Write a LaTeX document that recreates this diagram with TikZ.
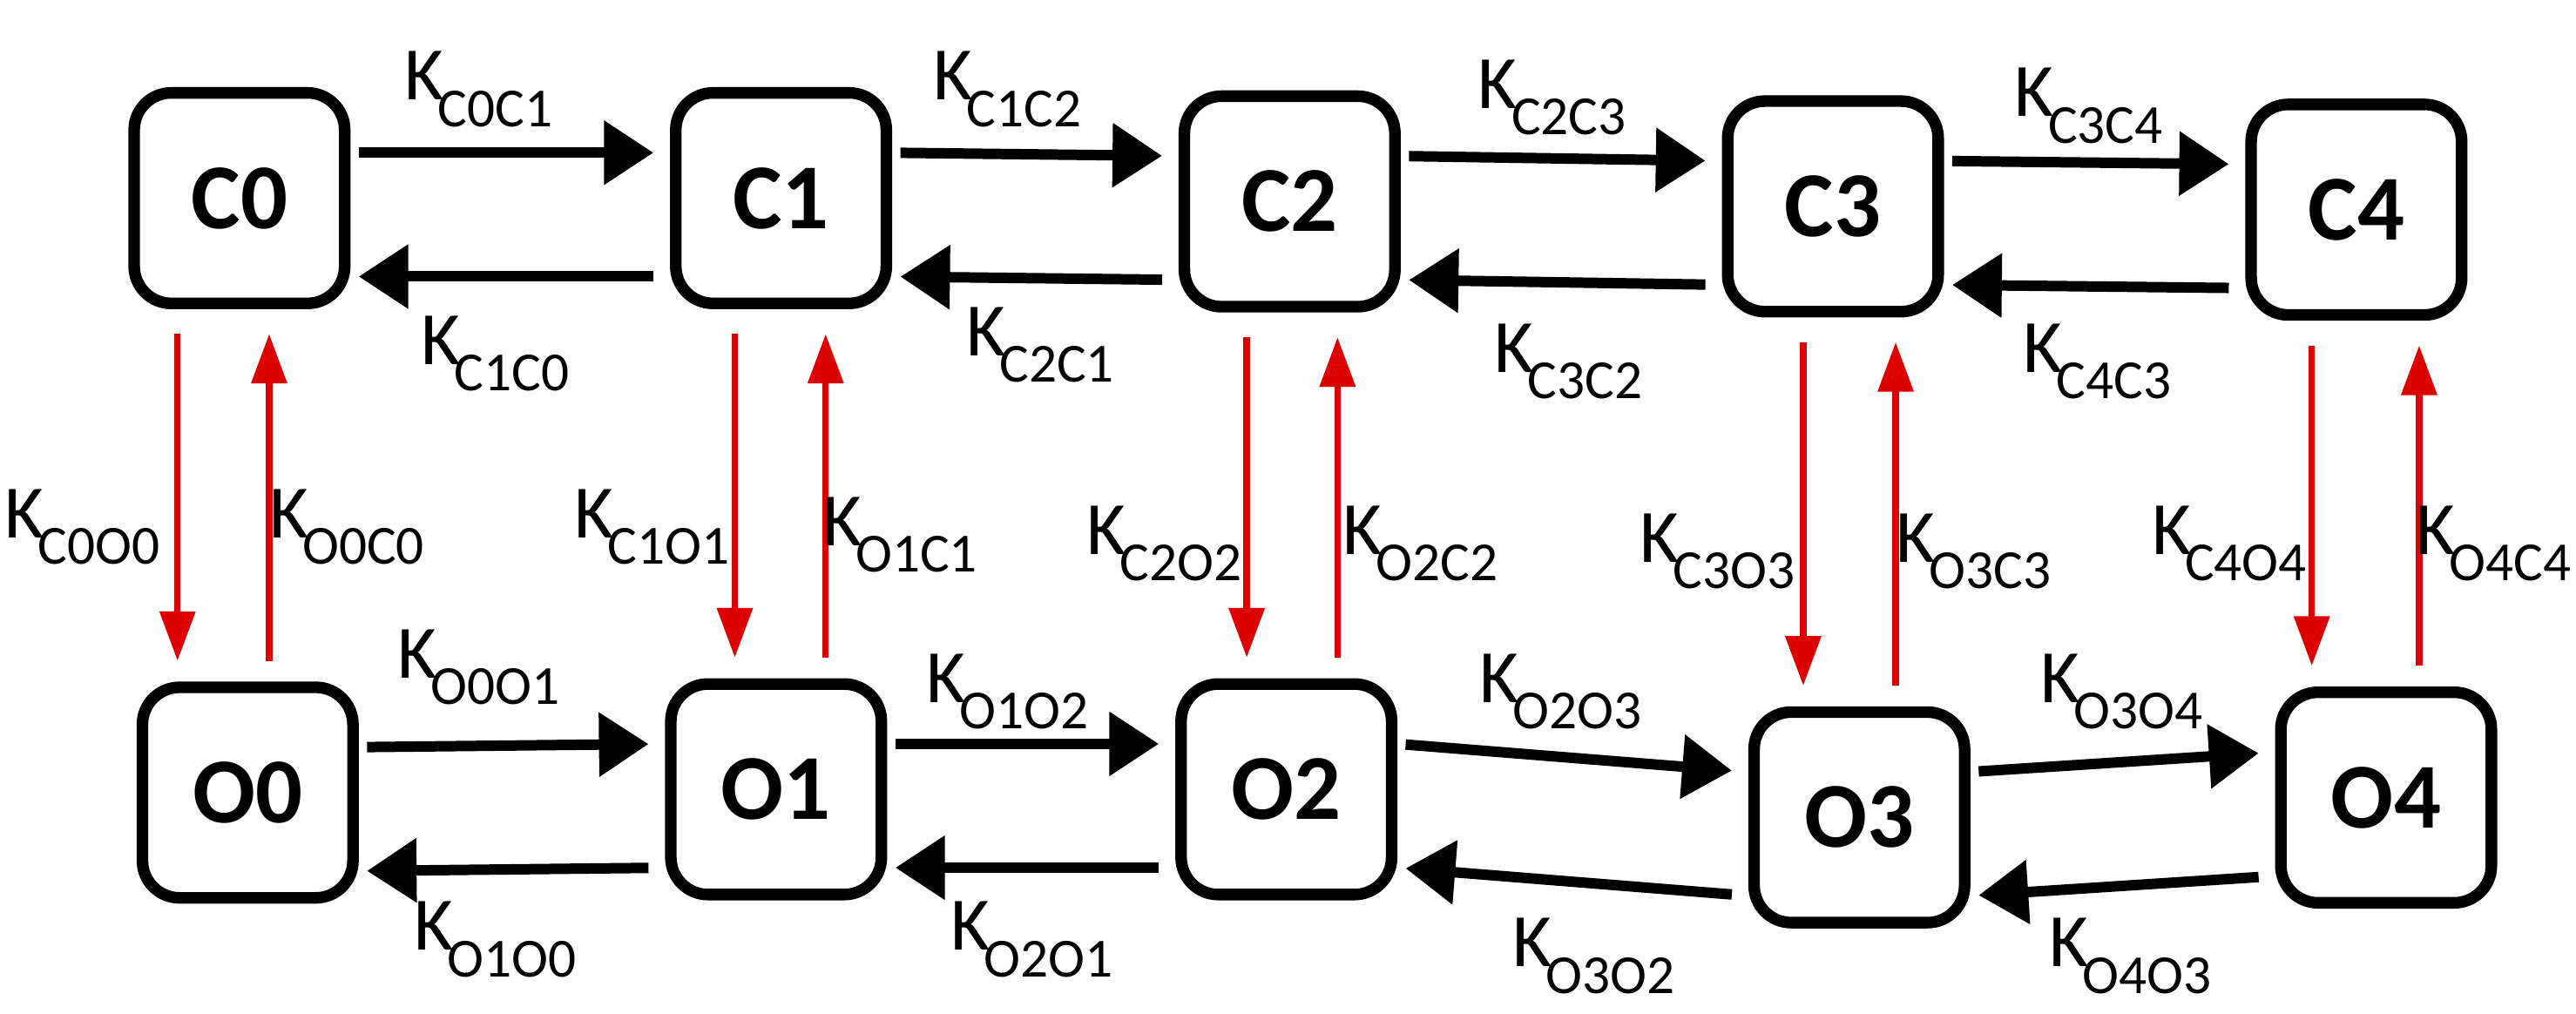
\documentclass[tikz,border=0pt]{standalone}
\usepackage{fontspec}
\setmainfont{Carlito}
\usetikzlibrary{arrows.meta,calc}
\definecolor{rateRed}{RGB}{220,0,0}
\newcommand{\rate}[1]{K\kern-0.08em\raisebox{-0.35em}{\fontsize{19}{21}\selectfont #1}}
\tikzset{
  state/.style={draw, line width=4pt, rounded corners=0.45cm, minimum size=2.55cm,
    font=\fontsize{32}{34}\selectfont\bfseries},
  harr/.style={line width=3.6pt, -{Triangle[length=0.6cm,width=0.75cm]}},
  varr/.style={line width=2.2pt, draw=rateRed, -{Triangle[length=0.6cm,width=0.42cm]}},
  lbl/.style={font=\fontsize{26}{28}\selectfont, inner sep=0pt}
}
\begin{document}
\begin{tikzpicture}
  \useasboundingbox (0,0) rectangle (31.2,12.28);
  % closed states
  \node[state] (C0) at (2.9,9.88) {C0};
  \node[state] (C1) at (9.46,9.88) {C1};
  \node[state] (C2) at (15.62,9.84) {C2};
  \node[state] (C3) at (22.2,9.78) {C3};
  \node[state] (C4) at (28.54,9.74) {C4};
  % open states
  \node[state] (O0) at (3.0,2.68) {O0};
  \node[state] (O1) at (9.4,2.72) {O1};
  \node[state] (O2) at (15.58,2.72) {O2};
  \node[state] (O3) at (22.52,2.38) {O3};
  \node[state] (O4) at (28.9,2.62) {O4};

  % horizontal transitions
  \foreach \a/\b in {C0/C1,C1/C2,C2/C3,C3/C4,O0/O1,O1/O2,O2/O3,O3/O4}{
    \draw[harr, shorten <=0.1cm, shorten >=0.2cm] ([yshift=0.55cm]\a.east) -- ([yshift=0.55cm]\b.west);
    \draw[harr, shorten <=0.2cm, shorten >=0.1cm] ([yshift=-0.95cm]\b.west) -- ([yshift=-0.95cm]\a.east);
  }

  % vertical transitions
  \foreach \c/\o/\dn/\up in {C0/O0/-0.75/0.36,C1/O1/-0.56/0.54,C2/O2/-0.52/0.58,C3/O3/-0.36/0.76,C4/O4/-0.54/0.76}{
    \draw[varr, shorten <=0.3cm, shorten >=0.25cm] ([xshift=\dn cm]\c.south) -- ([xshift=\dn cm]\c.south |- \o.north);
    \draw[varr, shorten <=0.25cm, shorten >=0.3cm] ([xshift=\up cm]\c.south |- \o.north) -- ([xshift=\up cm]\c.south);
  }

  % rate labels
  \node[lbl] (kC0C1) at (5.8,11.2) {\rate{C0C1}};
  \node[lbl] (kC1C0) at (6.0,8.0) {\rate{C1C0}};
  \node[lbl] (kC1C2) at (12.2,11.2) {\rate{C1C2}};
  \node[lbl] (kC2C1) at (12.6,8.1) {\rate{C2C1}};
  \node[lbl] (kC2C3) at (18.8,11.1) {\rate{C2C3}};
  \node[lbl] (kC3C2) at (19.0,7.9) {\rate{C3C2}};
  \node[lbl] (kC3C4) at (25.3,11.0) {\rate{C3C4}};
  \node[lbl] (kC4C3) at (25.4,7.9) {\rate{C4C3}};

  \node[lbl] (kC0O0) at (1.0,5.9) {\rate{C0O0}};
  \node[lbl] (kO0C0) at (4.2,5.9) {\rate{O0C0}};
  \node[lbl] (kC1O1) at (7.9,5.9) {\rate{C1O1}};
  \node[lbl] (kO1C1) at (10.9,5.8) {\rate{O1C1}};
  \node[lbl] (kC2O2) at (14.1,5.7) {\rate{C2O2}};
  \node[lbl] (kO2C2) at (17.2,5.7) {\rate{O2C2}};
  \node[lbl] (kC3O3) at (20.8,5.6) {\rate{C3O3}};
  \node[lbl] (kO3C3) at (23.9,5.6) {\rate{O3C3}};
  \node[lbl] (kC4O4) at (27.0,5.7) {\rate{C4O4}};
  \node[lbl] (kO4C4) at (30.2,5.7) {\rate{O4C4}};

  \node[lbl] (kO0O1) at (5.8,4.2) {\rate{O0O1}};
  \node[lbl] (kO1O0) at (6.0,0.9) {\rate{O1O0}};
  \node[lbl] (kO1O2) at (12.2,3.9) {\rate{O1O2}};
  \node[lbl] (kO2O1) at (12.5,0.9) {\rate{O2O1}};
  \node[lbl] (kO2O3) at (18.9,3.9) {\rate{O2O3}};
  \node[lbl] (kO3O2) at (19.3,0.7) {\rate{O3O2}};
  \node[lbl] (kO3O4) at (25.7,3.9) {\rate{O3O4}};
  \node[lbl] (kO4O3) at (25.8,0.7) {\rate{O4O3}};
\end{tikzpicture}
\end{document}
